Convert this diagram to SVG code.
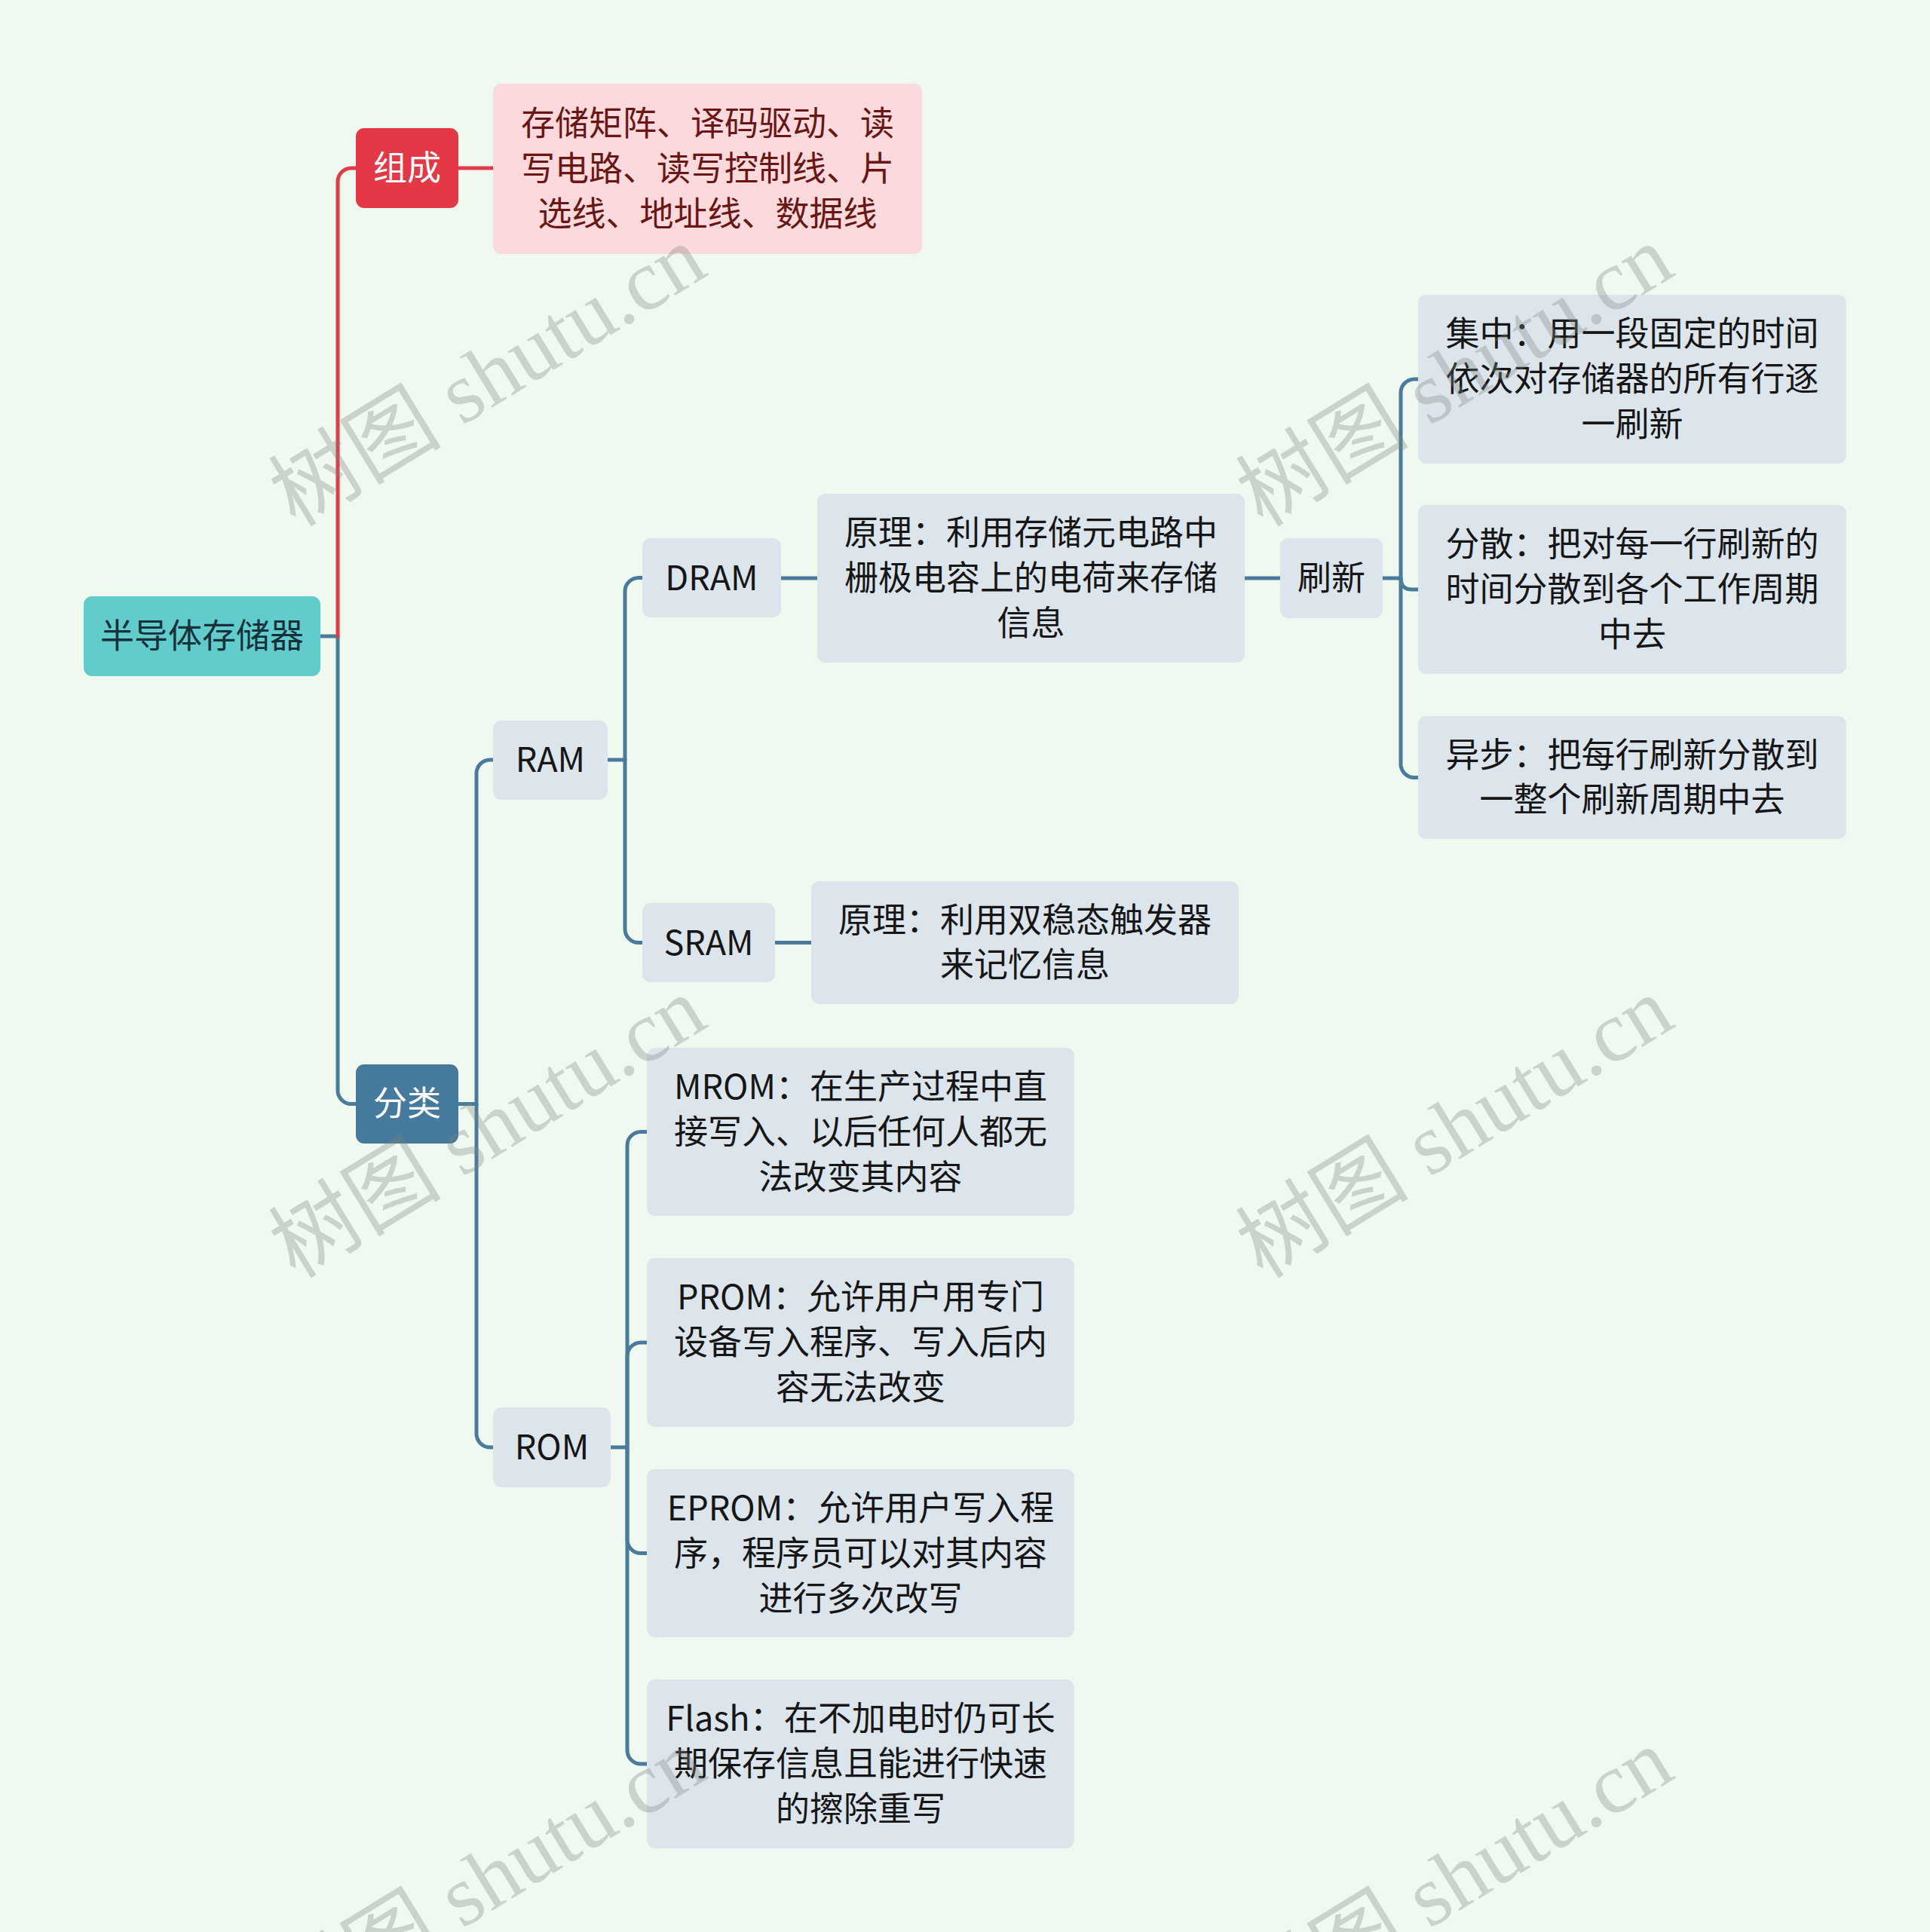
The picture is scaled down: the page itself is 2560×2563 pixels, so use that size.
<svg xmlns="http://www.w3.org/2000/svg" width="2560" height="2563" viewBox="0 0 2560 2563">
<style>
.t{font-family:"Noto Sans CJK SC","Open Sans",sans-serif;font-size:45px;text-anchor:middle;fill:#161616}
.w{fill:#ffffff}
.dr{fill:#6b1515}
.rt{fill:#17313a}
.g{fill:#dce4ec}
.c{fill:none;stroke:#4a7b9d;stroke-width:5;stroke-linecap:round;stroke-linejoin:round}
.cr{fill:none;stroke:#e33a48;stroke-width:5;stroke-linecap:round}
.wm{font-family:"Liberation Serif","Noto Sans CJK SC",serif;font-size:115px;fill:#7d877d;fill-opacity:0.33;text-anchor:middle}
</style>
<rect x="0" y="0" width="2560" height="2563" fill="#f0f9ef"/>
<g id="connectors">
<path class="c" d="M425,844 H448 V1446.5 A18,18 0 0 0 466,1464.5 H472"/>
<path class="cr" d="M448,844 V241 A18,18 0 0 1 466,223 H472"/>
<path class="cr" d="M608,223 H654"/>
<path class="c" d="M608,1464.5 H632 V1026 A18,18 0 0 1 650,1008 H654"/>
<path class="c" d="M632,1464.5 V1902 A18,18 0 0 0 650,1920 H654"/>
<path class="c" d="M806,1008 H829 V784.5 A18,18 0 0 1 847,766.5 H852"/>
<path class="c" d="M829,1008 V1232.5 A18,18 0 0 0 847,1250.5 H852"/>
<path class="c" d="M1036,767 H1084"/>
<path class="c" d="M1651,767 H1698"/>
<path class="c" d="M1028,1250.5 H1076"/>
<path class="c" d="M1834,767 H1858 V521 A18,18 0 0 1 1876,503 H1881"/>
<path class="c" d="M1858,767 V1013.5 A18,18 0 0 0 1876,1031.5 H1881"/>
<path class="c" d="M1858,767 Q1858,782 1873,782 H1881"/>
<path class="c" d="M810,1920 H832 V1519.5 A18,18 0 0 1 850,1501.5 H858"/>
<path class="c" d="M832,1920 V1799 A18,18 0 0 1 850,1781 H858"/>
<path class="c" d="M832,1920 V2042.5 A18,18 0 0 0 850,2060.5 H858"/>
<path class="c" d="M832,1920 V2322 A18,18 0 0 0 850,2340 H858"/>
</g>
<g id="root"><rect x="111" y="791" width="314" height="106" rx="11" fill="#62cbcb"/><text class="t rt" x="268" y="860">半导体存储器</text></g>
<g id="zucheng"><rect x="472" y="170" width="136" height="106" rx="11" fill="#e43847"/><text class="t w" x="540" y="239">组成</text></g>
<g id="zucheng-detail"><rect x="654" y="111" width="569" height="226" rx="11" fill="#fbd9dc"/>
<text class="t dr" x="938.5" y="180">存储矩阵、译码驱动、读</text>
<text class="t dr" x="938.5" y="240">写电路、读写控制线、片</text>
<text class="t dr" x="938.5" y="300">选线、地址线、数据线</text></g>
<g id="fenlei"><rect x="472" y="1412" width="136" height="105" rx="11" fill="#457a9c"/><text class="t w" x="540" y="1480">分类</text></g>
<g id="ram"><rect class="g" x="654" y="956" width="152" height="105" rx="11"/><text class="t" x="730" y="1024">RAM</text></g>
<g id="dram"><rect class="g" x="852" y="714" width="184" height="105" rx="11"/><text class="t" x="944" y="783">DRAM</text></g>
<g id="dram-principle"><rect class="g" x="1084" y="655" width="567" height="224" rx="11"/>
<text class="t" x="1367.5" y="723">原理：利用存储元电路中</text>
<text class="t" x="1367.5" y="783">栅极电容上的电荷来存储</text>
<text class="t" x="1367.5" y="843">信息</text></g>
<g id="refresh"><rect class="g" x="1698" y="714" width="136" height="106" rx="11"/><text class="t" x="1766" y="783">刷新</text></g>
<g id="centralized"><rect class="g" x="1881" y="391" width="568" height="224" rx="11"/>
<text class="t" x="2165" y="459">集中：用一段固定的时间</text>
<text class="t" x="2165" y="519">依次对存储器的所有行逐</text>
<text class="t" x="2165" y="579">一刷新</text></g>
<g id="distributed"><rect class="g" x="1881" y="670" width="568" height="224" rx="11"/>
<text class="t" x="2165" y="738">分散：把对每一行刷新的</text>
<text class="t" x="2165" y="798">时间分散到各个工作周期</text>
<text class="t" x="2165" y="858">中去</text></g>
<g id="async"><rect class="g" x="1881" y="950" width="568" height="163" rx="11"/>
<text class="t" x="2165" y="1018">异步：把每行刷新分散到</text>
<text class="t" x="2165" y="1077">一整个刷新周期中去</text></g>
<g id="sram"><rect class="g" x="852" y="1198" width="176" height="105" rx="11"/><text class="t" x="940" y="1267">SRAM</text></g>
<g id="sram-principle"><rect class="g" x="1076" y="1169" width="567" height="163" rx="11"/>
<text class="t" x="1359.5" y="1237">原理：利用双稳态触发器</text>
<text class="t" x="1359.5" y="1296">来记忆信息</text></g>
<g id="rom"><rect class="g" x="654" y="1867" width="156" height="106" rx="11"/><text class="t" x="732" y="1936">ROM</text></g>
<g id="mrom"><rect class="g" x="858" y="1390" width="567" height="223" rx="11"/>
<text class="t" x="1141.5" y="1458">MROM：在生产过程中直</text>
<text class="t" x="1141.5" y="1518">接写入、以后任何人都无</text>
<text class="t" x="1141.5" y="1578">法改变其内容</text></g>
<g id="prom"><rect class="g" x="858" y="1669" width="567" height="224" rx="11"/>
<text class="t" x="1141.5" y="1737">PROM：允许用户用专门</text>
<text class="t" x="1141.5" y="1797">设备写入程序、写入后内</text>
<text class="t" x="1141.5" y="1857">容无法改变</text></g>
<g id="eprom"><rect class="g" x="858" y="1949" width="567" height="223" rx="11"/>
<text class="t" x="1141.5" y="2017">EPROM：允许用户写入程</text>
<text class="t" x="1141.5" y="2077">序，程序员可以对其内容</text>
<text class="t" x="1141.5" y="2137">进行多次改写</text></g>
<g id="flash"><rect class="g" x="858" y="2228" width="567" height="224" rx="11"/>
<text class="t" x="1141.5" y="2296">Flash：在不加电时仍可长</text>
<text class="t" x="1141.5" y="2356">期保存信息且能进行快速</text>
<text class="t" x="1141.5" y="2416">的擦除重写</text></g>
<g id="watermarks">
<text class="wm" transform="translate(667,532) rotate(-31.5)">树图 shutu.cn</text>
<text class="wm" transform="translate(1950,532) rotate(-31.5)">树图 shutu.cn</text>
<text class="wm" transform="translate(667,1529) rotate(-31.5)">树图 shutu.cn</text>
<text class="wm" transform="translate(1950,1529) rotate(-31.5)">树图 shutu.cn</text>
<text class="wm" transform="translate(667,2526) rotate(-31.5)">树图 shutu.cn</text>
<text class="wm" transform="translate(1950,2526) rotate(-31.5)">树图 shutu.cn</text>
</g>
</svg>
